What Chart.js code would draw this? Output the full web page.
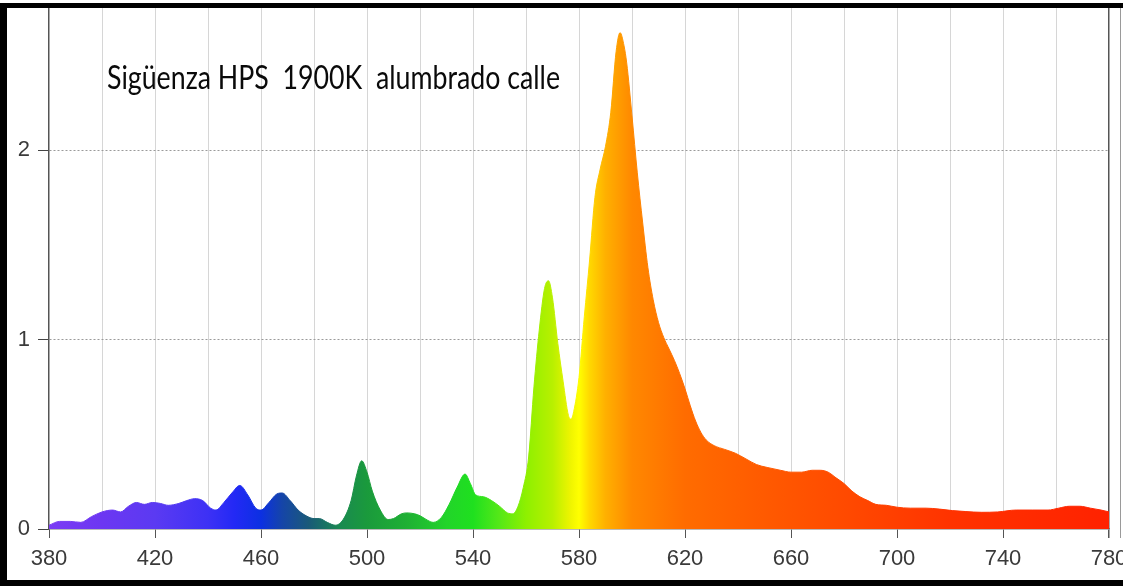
<!DOCTYPE html>
<html><head><meta charset="utf-8">
<script src="https://cdn.jsdelivr.net/npm/chart.js@4/dist/chart.umd.min.js"></script>
<style>
html,body{margin:0;padding:0;background:#fff;overflow:hidden;}
#wrap{position:absolute;left:0;top:0;width:1123px;height:586px;}
</style></head><body>
<div id="wrap"><canvas id="c" width="1123" height="586"></canvas></div>
<script>
const titleText = 'Sigüenza HPS  1900K  alumbrado calle';
const wavelengths = [380,384,388,392,396,400,404,407,410,413,416,419,422,425,429,432,435,438,441,443,446,449,452,455,458,460,463,466,468,471,474,477,480,482,485,488,491,494,496,498,500,502,505,508,510,513,515,518,520,523,525,528,531,534,537,539,541,544,547,550,553,555,557,559,561,563,565,567,568.5,570,572,574,576,577,578,580,582,584,586,588,590,592,594,595.5,597,598,600,602,604,606,608,610,612,614,616,618,620,622,624,626,628,631,635,639,643,647,651,656,660,664,668,671,674,677,680,683,686,689,692,696,700,705,711,716,721,726,732,738,745,751,757,761,765,769,773,777,780];
const intensity = [0.02,0.04,0.04,0.035,0.065,0.09,0.10,0.09,0.12,0.14,0.13,0.14,0.135,0.125,0.135,0.15,0.16,0.15,0.11,0.10,0.14,0.19,0.23,0.18,0.11,0.10,0.14,0.185,0.19,0.15,0.10,0.07,0.055,0.055,0.035,0.02,0.05,0.15,0.28,0.36,0.30,0.20,0.10,0.05,0.055,0.08,0.085,0.08,0.07,0.045,0.035,0.06,0.13,0.22,0.29,0.24,0.18,0.17,0.15,0.12,0.085,0.08,0.12,0.22,0.38,0.75,1.05,1.27,1.31,1.22,0.98,0.78,0.60,0.58,0.62,0.80,1.12,1.42,1.75,1.90,2.02,2.20,2.52,2.62,2.55,2.46,2.18,1.88,1.62,1.38,1.21,1.09,1.01,0.95,0.89,0.82,0.74,0.65,0.57,0.51,0.47,0.44,0.42,0.40,0.37,0.34,0.325,0.31,0.30,0.30,0.31,0.31,0.30,0.27,0.24,0.20,0.17,0.15,0.13,0.125,0.115,0.11,0.11,0.105,0.097,0.092,0.088,0.09,0.10,0.10,0.10,0.11,0.12,0.12,0.11,0.10,0.09];
const xTickLabels = [380,420,460,500,540,580,620,660,700,740,780];
const yTickLabels = [0,1,2];

// colour stops for the spectral fill (style only)
const spectrumNm = [380,400,420,440,450,460,468,478,490,500,515,530,540,550,560,570,577,580,584,590,600,620,650,680,720,780];
const spectrumCol = ['#7b3cf4','#6c37f2','#5b3af2','#3d31f5','#2329f5','#0c30e2','#1545a8','#1a5a78','#1a8a50','#1a9a3c','#1fb034','#22d42a','#1fe01f','#55e818','#8ef000','#b8f000','#f0f500','#ffff00','#ffd800','#ffb000','#ff8800','#ff6c00','#ff5a00','#ff4a00','#ff3300','#ff2200'];

function spectrumFill(ctx){
  const chart = ctx.chart;
  const area = chart.chartArea;
  if(!area) return '#ff8800';
  const xs = chart.scales.x;
  const x0 = xs.getPixelForValue(380), x1 = xs.getPixelForValue(780);
  const g = chart.ctx.createLinearGradient(x0,0,x1,0);
  spectrumNm.forEach((nm,i)=>g.addColorStop((nm-380)/400, spectrumCol[i]));
  return g;
}

const framePlugin = {
  id:'frame',
  afterDraw(chart){
    const c = chart.ctx;
    c.save();
    c.fillStyle = '#9a9a9a';
    c.fillRect(1120,8,1,530);
    c.fillStyle = '#000';
    c.fillRect(0,3,7,583);
    c.fillRect(0,3,1123,5);
    c.fillRect(0,580,1123,6);
    c.restore();
  }
};
const titlePlugin = {
  id:'innerTitle',
  afterDatasetsDraw(chart){
    const c = chart.ctx;
    c.save();
    c.font = '33px Lato, "Open Sans", sans-serif';
    const w = c.measureText(titleText).width;
    const sx = 453 / w;
    c.translate(107, 89);
    c.scale(sx, 1);
    c.fillStyle = '#0a0a0a';
    c.textBaseline = 'alphabetic';
    c.fillText(titleText, 0, 0);
    c.restore();
  }
};

const tickFont = {family:'"Liberation Sans Narrow", "Liberation Sans", Arial, sans-serif', size:22};

new Chart(document.getElementById('c'), {
  type:'line',
  data:{
    datasets:[{
      data: wavelengths.map((w,i)=>({x:w, y:intensity[i]})),
      fill:'origin',
      backgroundColor: spectrumFill,
      borderColor: spectrumFill,
      borderWidth: 1,
      pointRadius: 0,
      cubicInterpolationMode: 'monotone'
    }]
  },
  options:{
    responsive:false,
    animation:false,
    devicePixelRatio:1,
    layout:{padding:{left:0,right:14,top:8,bottom:0}},
    plugins:{legend:{display:false}, tooltip:{enabled:false}, title:{display:false}},
    scales:{
      x:{
        type:'linear', min:380, max:780,
        ticks:{stepSize:20, autoSkip:false, maxRotation:0, minRotation:0, color:'#3a3a3a', font:tickFont, padding:8,
          callback:(v)=> xTickLabels.includes(v) ? String(v) : ''},
        grid:{
          color:(c)=> (c.tick && c.tick.value===780) ? '#555' : (c.tick && c.tick.value===380 ? 'rgba(0,0,0,0)' : '#d6d6d6'),
          lineWidth:(c)=> (c.tick && c.tick.value===780) ? 1.5 : 1,
          tickLength:9,
          tickColor:(c)=> (c.tick && xTickLabels.includes(c.tick.value)) ? '#555' : 'rgba(0,0,0,0)'
        },
        border:{color:'#777', width:1.5},
        afterFit(s){ s.height = 57; s.paddingLeft = 0; s.paddingRight = 0; }
      },
      y:{
        type:'linear', min:0, max:2.75,
        ticks:{stepSize:1, includeBounds:false, color:'#3a3a3a', font:tickFont, padding:8,
          callback:(v)=> yTickLabels.includes(v) ? String(v) : ''},
        grid:{
          color:(c)=> (c.tick && c.tick.value===0) ? 'rgba(0,0,0,0)' : '#9a9a9a',
          tickLength:11,
          tickColor:'#444'
        },
        border:{color:'#555', width:1.5, dash:[2,2]},
        afterFit(s){ s.width = 49; s.paddingTop = 0; s.paddingBottom = 0; }
      }
    }
  },
  plugins:[framePlugin, titlePlugin]
});
</script>
</body></html>
